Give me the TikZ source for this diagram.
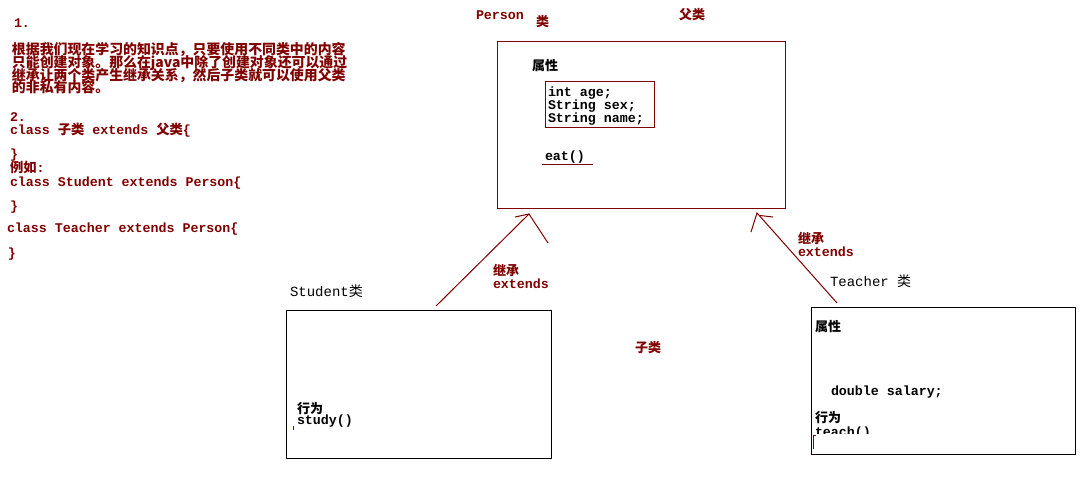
\documentclass[tikz,border=0pt]{standalone}
\usepackage{fontspec}
\setmonofont{Liberation Mono}
\newfontfamily\cjk{Noto Sans CJK SC}
\definecolor{dred}{HTML}{800000}
\newcommand{\zh}[1]{{\cjk\bfseries #1}}
\newcommand{\zhr}[1]{{\cjk #1}}
\begin{document}
\begin{tikzpicture}[x=1pt,y=-1pt,inner sep=0pt,outer sep=0pt,
  mono/.style={anchor=base west,font=\ttfamily\bfseries\fontsize{13.3}{13}\selectfont},
  rmono/.style={mono,text=dred},
  title/.style={anchor=base west,font=\ttfamily\fontsize{14}{13}\selectfont},
  cn/.style={anchor=base west,font=\cjk\bfseries\fontsize{13}{13}\selectfont},
  rcn/.style={cn,text=dred},
  para/.style={anchor=base west,text=dred,font=\cjk\bfseries\fontsize{13.9}{13}\selectfont},
  box/.style={draw=#1,line width=1pt,anchor=north west},
  box/.default=black,
  conn/.style={draw=dred,line width=1pt}]
\useasboundingbox[fill=white] (0,0) rectangle (1088,483);

% left text
\node[rmono] (n1) at (14,27) {1.};
\node[para] (p1) at (12,54) {根据我们现在学习的知识点，只要使用不同类中的内容};
\node[para] (p2) at (12,67) {只能创建对象。那么在java中除了创建对象还可以通过};
\node[para] (p3) at (12,80) {继承让两个类产生继承关系，然后子类就可以使用父类};
\node[para] (p4) at (12,92) {的非私有内容。};
\node[rmono] (n2) at (10,121) {2.};
\node[rmono] (c1) at (10,134) {class \zh{子类} extends \zh{父类}\{};
\node[rmono] (c2) at (10,158) {\}};
\node[rmono] (c3) at (10,172) {\zh{例如}:};
\node[rmono] (c4) at (10,186) {class Student extends Person\{};
\node[rmono] (c5) at (10,210) {\}};
\node[rmono] (c6) at (7,232) {class Teacher extends Person\{};
\node[rmono] (c7) at (8,257) {\}};

% Person class
\node[rmono] (pname) at (476,19) {Person};
\node[rcn] (plei) at (536,26) {类};
\node[rcn] (pfu) at (679,19) {父类};
\node[box=dred,minimum width=288,minimum height=167] (person) at (497.5,41.5) {};
\node[cn] (pattr) at (532,70) {属性};
\node[box=dred,minimum width=109,minimum height=46] (pfields) at (545.5,81.5) {};
\node[mono] (f1) at (548,96) {int age;};
\node[mono] (f2) at (548,109) {String sex;};
\node[mono] (f3) at (548,122) {String name;};
\node[mono] (eat) at (545,160) {eat()};
\draw[conn] (542,164.5) -- (593,164.5);

% Student class
\node[title] (sname) at (290,296) {Student\zhr{类}};
\node[box,minimum width=265,minimum height=148] (student) at (286.5,310.5) {};
\node[cn] (sbeh) at (297,413) {行为};
\node[mono] (study) at (297,424) {study()};
\draw[dred,line width=1pt] (293.5,426) -- (293.5,430);

% Teacher class
\node[title] (tname) at (830,286) {Teacher \zhr{类}};
\node[box,minimum width=264,minimum height=147] (teacher) at (811.5,307.5) {};
\node[cn] (tattr) at (815,331) {属性};
\node[mono] (salary) at (831,395) {double salary;};
\node[cn] (tbeh) at (815,422) {行为};
\begin{scope}
  \clip (812,420) rectangle (1076,433.5);
  \node[mono] (teach) at (815,436) {teach()};
\end{scope}
\draw[dred,line width=1pt] (815.5,435.5) -- (813.5,435.5) -- (813.5,449);

% middle label
\node[rcn] (sub) at (635,352) {子类};

% inheritance connectors
\coordinate (sa1) at (436,306);
\coordinate (sapex) at (529,214);
\coordinate (saw1) at (515,217);
\coordinate (saw2) at (548,243);
\draw[conn] (sa1) -- (sapex) -- (saw2);
\draw[conn] (saw1) -- (sapex);
\node[rcn] (sj) at (493,275) {继承};
\node[rmono] (se) at (493,288) {extends};

\coordinate (ta1) at (837,303);
\coordinate (tapex) at (757,213);
\coordinate (taw1) at (751,232);
\coordinate (taw2) at (760,215.5);
\coordinate (taw3) at (773,217);
\draw[conn] (ta1) -- (tapex) -- (taw1);
\draw[conn] (taw2) -- (taw3);
\node[rcn] (tj) at (798,243) {继承};
\node[rmono] (te) at (798,256) {extends};
\end{tikzpicture}
\end{document}
